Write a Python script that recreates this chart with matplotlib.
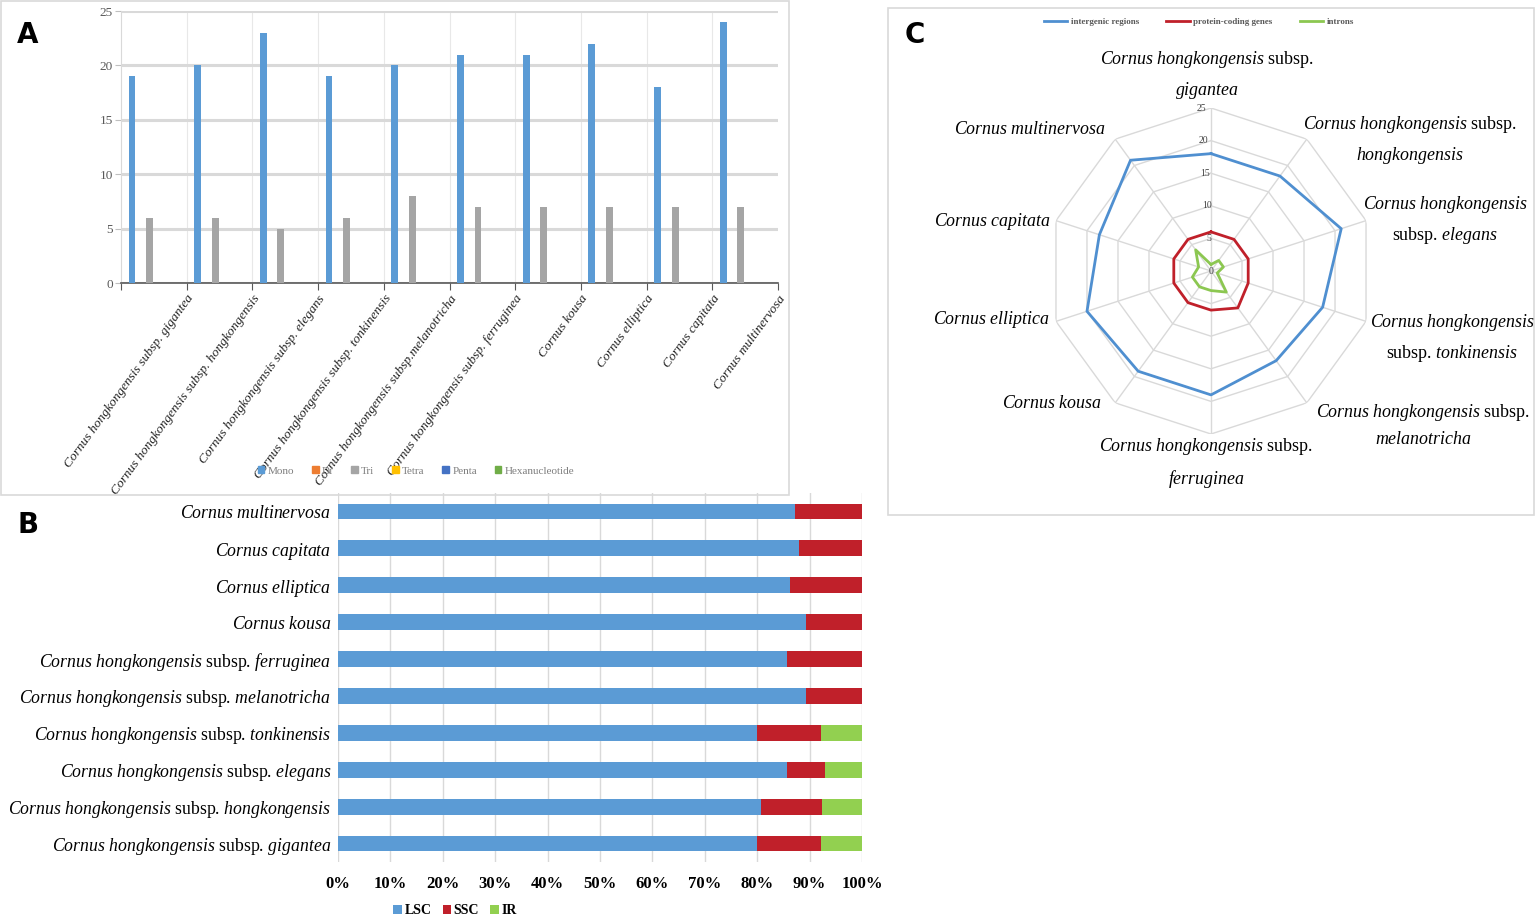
import numpy as np
import matplotlib
matplotlib.use("Agg")
import matplotlib.pyplot as plt
from matplotlib.patches import Rectangle, Patch
from matplotlib.lines import Line2D

plt.rcParams['font.family'] = ['Liberation Serif', 'DejaVu Serif']
plt.rcParams['mathtext.fontset'] = 'custom'
plt.rcParams['mathtext.rm'] = 'Liberation Serif'
plt.rcParams['mathtext.it'] = 'Liberation Serif:italic'
plt.rcParams['mathtext.bf'] = 'Liberation Serif:bold'

# ---- data ----
taxa_a = ['Cornus hongkongensis subsp. gigantea', 'Cornus hongkongensis subsp. hongkongensis',
          'Cornus hongkongensis subsp. elegans', 'Cornus hongkongensis subsp. tonkinensis',
          'Cornus hongkongensis subsp.melanotricha', 'Cornus hongkongensis subsp. ferruginea',
          'Cornus kousa', 'Cornus elliptica', 'Cornus capitata', 'Cornus multinervosa']
ssr_types = ['Mono', 'Di', 'Tri', 'Tetra', 'Penta', 'Hexanucleotide']
mono = [19, 20, 23, 19, 20, 21, 21, 22, 18, 24]
di = [0] * 10
tri = [6, 6, 5, 6, 8, 7, 7, 7, 7, 7]
tetra = [0] * 10
penta = [0] * 10
hexa = [0] * 10

# panel B, bottom to top
taxa_b = [r'$\mathit{Cornus\ hongkongensis}$ subsp. $\mathit{gigantea}$',
          r'$\mathit{Cornus\ hongkongensis}$ subsp. $\mathit{hongkongensis}$',
          r'$\mathit{Cornus\ hongkongensis}$ subsp. $\mathit{elegans}$',
          r'$\mathit{Cornus\ hongkongensis}$ subsp. $\mathit{tonkinensis}$',
          r'$\mathit{Cornus\ hongkongensis}$ subsp. $\mathit{melanotricha}$',
          r'$\mathit{Cornus\ hongkongensis}$ subsp. $\mathit{ferruginea}$',
          r'$\mathit{Cornus\ kousa}$', r'$\mathit{Cornus\ elliptica}$',
          r'$\mathit{Cornus\ capitata}$', r'$\mathit{Cornus\ multinervosa}$']
lsc = [80.0, 80.8, 85.7, 80.0, 89.3, 85.7, 89.3, 86.2, 87.9, 87.2]
ssc = [12.1, 11.6, 7.2, 12.1, 10.7, 14.3, 10.7, 13.8, 12.1, 12.8]
ir = [7.9, 7.6, 7.1, 7.9, 0, 0, 0, 0, 0, 0]

# panel C, clockwise from top
intergenic = [18, 18, 21, 18, 17, 19, 19, 20, 18, 21]
coding = [6, 6, 6, 6, 7, 6, 6, 6, 6, 6]
introns = [1, 2, 2, 1, 4, 3, 3, 3, 2, 4]
radar_labels = [
    (r'$\mathit{Cornus\ hongkongensis}$ subsp.' + '\n' + r'$\mathit{gigantea}$', 1207, 75),
    (r'$\mathit{Cornus\ hongkongensis}$ subsp.' + '\n' + r'$\mathit{hongkongensis}$', 1410, 140),
    (r'$\mathit{Cornus\ hongkongensis}$' + '\n' + r'subsp. $\mathit{elegans}$', 1445, 220),
    (r'$\mathit{Cornus\ hongkongensis}$' + '\n' + r'subsp. $\mathit{tonkinensis}$', 1452, 338),
    (r'$\mathit{Cornus\ hongkongensis}$ subsp.' + '\n' + r'$\mathit{melanotricha}$', 1423, 425),
    (r'$\mathit{Cornus\ hongkongensis}$ subsp.' + '\n' + r'$\mathit{ferruginea}$', 1206, 463),
    (r'$\mathit{Cornus\ kousa}$', 1052, 404),
    (r'$\mathit{Cornus\ elliptica}$', 991, 320),
    (r'$\mathit{Cornus\ capitata}$', 992, 221),
    (r'$\mathit{Cornus\ multinervosa}$', 1030, 130),
]

W, H = 1535, 923
fig = plt.figure(figsize=(W / 100, H / 100), dpi=100)


def fx(px):
    return px / W


def fy(py):
    return 1 - py / H


blue = '#5b9bd5'
grey = '#a5a5a5'
red = '#c0202a'
green = '#92d050'

# panel borders
fig.patches.append(Rectangle((fx(1), fy(495)), fx(788), 494 / H, transform=fig.transFigure,
                             fill=False, ec='#d9d9d9', lw=1.2))
fig.patches.append(Rectangle((fx(888), fy(515)), fx(646), 507 / H, transform=fig.transFigure,
                             fill=False, ec='#d9d9d9', lw=1.2))

# ---- A ----
axA = fig.add_axes([fx(121), fy(283), fx(657), 272 / H])
series = [mono, di, tri, tetra, penta, hexa]
cols = [blue, '#ed7d31', grey, '#ffc000', '#4472c4', '#70ad47']
x = np.arange(10)
handles = []
for k, (vals, c, nm) in enumerate(zip(series, cols, ssr_types)):
    axA.bar(x + (1.25 + k) / 7.5, vals, width=0.105, color=c, zorder=3)
    handles.append(Patch(color=c, label=nm))
axA.set_xlim(0, 10)
axA.set_ylim(0, 25)
axA.set_yticks([0, 5, 10, 15, 20, 25])
axA.grid(axis='y', color='#d9d9d9', lw=2.2, zorder=0)
for b in range(1, 10):
    axA.axvline(b, color='#e8e8e8', lw=0.8, zorder=0)
axA.set_xticks(np.arange(11))
axA.set_xticklabels([''] + taxa_a, fontstyle='italic', fontsize=9.6, color='#222222')
plt.setp(axA.get_xticklabels(), rotation=54, ha='right', rotation_mode='anchor')
axA.tick_params(axis='x', length=5, color='#595959', pad=2)
axA.tick_params(axis='y', length=4, color='#bfbfbf', labelsize=9.5, labelcolor='#595959', pad=2)
for s in ['top', 'right']:
    axA.spines[s].set_visible(False)
axA.spines['left'].set_color('#d9d9d9')
axA.spines['bottom'].set_color('#595959')
axA.spines['bottom'].set_linewidth(1.2)
fig.legend(handles=handles, loc='center', bbox_to_anchor=(fx(416), fy(471)), ncol=6,
           frameon=False, fontsize=8, handlelength=0.6, handleheight=0.6, handletextpad=0.3,
           columnspacing=1.6, labelcolor='#7f7f7f')

# ---- B ----
axB = fig.add_axes([fx(338), fy(862), fx(524), 369 / H])
y = np.arange(10)
axB.barh(y, lsc, height=0.43, color=blue, label='LSC', zorder=3)
axB.barh(y, ssc, left=lsc, height=0.43, color=red, label='SSC', zorder=3)
axB.barh(y, ir, left=np.add(lsc, ssc), height=0.43, color=green, label='IR', zorder=3)
axB.set_xlim(0, 100)
axB.set_ylim(-0.5, 9.5)
axB.set_xticks(np.arange(0, 101, 10))
axB.set_xticklabels([f'{v}%' for v in range(0, 101, 10)], fontweight='bold', fontsize=12)
axB.set_yticks(y)
axB.set_yticklabels(taxa_b, fontsize=12.8)
axB.tick_params(length=0)
axB.tick_params(axis='x', pad=10)
axB.tick_params(axis='y', pad=5)
axB.grid(axis='x', color='#d9d9d9', lw=1, zorder=0)
for s in axB.spines.values():
    s.set_visible(False)
fig.legend(*axB.get_legend_handles_labels(), loc='center', bbox_to_anchor=(fx(455), fy(911)),
           ncol=3, frameon=False, prop={'weight': 'bold', 'size': 10}, handlelength=0.6,
           handleheight=0.6, handletextpad=0.2, columnspacing=0.8)

# ---- C ----
R = 163
axC = fig.add_axes([fx(1211 - R), fy(271 + R), fx(2 * R), 2 * R / H], projection='polar')
theta = np.linspace(0, 2 * np.pi, 11)
axC.set_theta_zero_location('N')
axC.set_theta_direction(-1)
axC.set_ylim(0, 25)
axC.grid(False)
axC.spines['polar'].set_visible(False)
axC.set_xticks([])
axC.set_yticks([])
axC.patch.set_alpha(0)
for r in [5, 10, 15, 20, 25]:
    axC.plot(theta, [r] * 11, color='#d9d9d9', lw=1, zorder=1)
for t in theta[:-1]:
    axC.plot([t, t], [0, 25], color='#d9d9d9', lw=1, zorder=1)
for r in [0, 5, 10, 15, 20, 25]:
    axC.text(np.deg2rad(-3.5 if r else -20), r, str(r), fontsize=7, color='#404040',
             ha='center', va='center')
lc = []
for vals, c, nm in [(intergenic, '#4f8fd0', 'intergenic regions'),
                    (coding, '#c0202a', 'protein-coding genes'),
                    (introns, '#8cc751', 'introns')]:
    axC.plot(theta, vals + vals[:1], color=c, lw=2, zorder=3)
    lc.append(Line2D([], [], color=c, lw=2, label=nm))
fig.legend(handles=lc, loc='center', bbox_to_anchor=(fx(1199), fy(22)), ncol=3, frameon=False,
           prop={'weight': 'bold', 'size': 6.5}, labelcolor='#595959', handlelength=2.6,
           handletextpad=0.4, columnspacing=3.0)
for txt, px, py in radar_labels:
    fig.text(fx(px), fy(py), txt, ha='center', va='center', fontsize=12.9, linespacing=1.65)

# panel letters
for lab, px, py in [('A', 28, 35), ('B', 28, 525), ('C', 915, 35)]:
    fig.text(fx(px), fy(py), lab, fontsize=20, fontweight='bold', family='DejaVu Sans',
             ha='center', va='center')

fig.savefig('out.png', dpi=100)
